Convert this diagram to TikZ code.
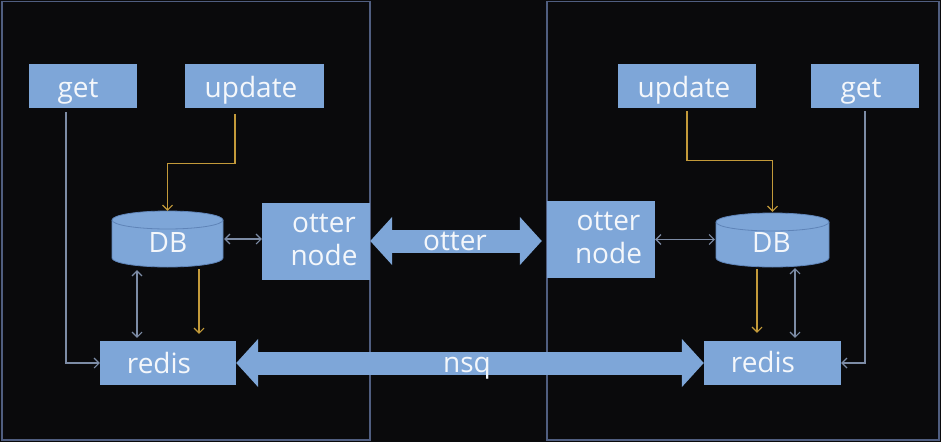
\documentclass[tikz,border=0pt]{standalone}
\usepackage{fontspec}
\setmainfont{Open Sans}
\usetikzlibrary{arrows.meta,calc}
\definecolor{bg}{HTML}{0A0A0C}
\definecolor{panel}{HTML}{505E80}
\definecolor{boxblue}{HTML}{7EA6D8}
\definecolor{boxedge}{HTML}{5F84B8}
\definecolor{txtc}{HTML}{F4F7FB}
\definecolor{linegray}{HTML}{7D8CA6}
\definecolor{gold}{HTML}{C39A3A}
\begin{document}
\begin{tikzpicture}[x=1pt,y=-1pt,
  box/.style={fill=boxblue, draw=none, inner sep=0pt},
  txt/.style={text=txtc, font=\fontsize{28}{33}\selectfont, anchor=base, inner sep=0pt},
  conn/.style={draw=linegray, line width=1.1pt, -{Straight Barb[length=5pt,width=10pt]}},
  conn2/.style={draw=linegray, line width=1.1pt, {Straight Barb[length=5pt,width=10pt]}-{Straight Barb[length=5pt,width=10pt]}},
  goldc/.style={draw=gold, line width=1.1pt, -{Straight Barb[length=5pt,width=10pt]}},
  bigarrow/.style={draw=boxblue, line width=23pt, {Triangle[length=22pt,width=47pt]}-{Triangle[length=22pt,width=47pt]}},
  panelst/.style={draw=panel, line width=1.4pt},
  cyl/.style={fill=boxblue, draw=boxedge, line width=0.8pt}
]
\useasboundingbox (0,0) rectangle (941,442);
\fill[bg] (0,0) rectangle (941,442);
% panels
\draw[panelst] (2,1.5) rectangle (370,440);
\draw[panelst] (547,1.5) rectangle (939,440);

% ---- left side ----
\node[box, minimum width=108pt, minimum height=44pt] (getL) at (83,86) {};
\node[txt] at (78,97) {get};
\node[box, minimum width=139pt, minimum height=44pt] (updL) at (254.5,86) {};
\node[txt] at (251,97) {update};
\node[box, minimum width=108pt, minimum height=77pt] (otL) at (316,241) {};
\node[txt] at (324,232) {otter};
\node[txt] at (324,265) {node};
\node[box, minimum width=136pt, minimum height=44pt] (redisL) at (168,363) {};
\node[txt] at (159,373) {redis};
% DB cylinder left
\node[minimum width=111pt, minimum height=56pt, inner sep=0pt] (dbL) at (167.5,239) {};
\filldraw[cyl]
  (112,220) -- (112,258) arc[start angle=180, end angle=0, x radius=55.5, y radius=9]
  -- (223,220) arc[start angle=0, end angle=-180, x radius=55.5, y radius=9] -- cycle;
\draw[boxedge, line width=0.8pt] (112,220) arc[start angle=180, end angle=0, x radius=55.5, y radius=9];
\node[txt] at (168,252) {DB};

% ---- right side ----
\node[box, minimum width=108pt, minimum height=77pt] (otR) at (601,239) {};
\node[txt] at (608.5,230) {otter};
\node[txt] at (608.5,263) {node};
\node[box, minimum width=138pt, minimum height=44pt] (updR) at (687,86) {};
\node[txt] at (684,97) {update};
\node[box, minimum width=108pt, minimum height=44pt] (getR) at (865,86) {};
\node[txt] at (861,97) {get};
\node[box, minimum width=137pt, minimum height=44pt] (redisR) at (772.5,363) {};
\node[txt] at (763,372) {redis};
% DB cylinder right
\node[minimum width=113pt, minimum height=55pt, inner sep=0pt] (dbR) at (772.5,239.5) {};
\filldraw[cyl]
  (716,222) -- (716,258) arc[start angle=180, end angle=0, x radius=56.5, y radius=9]
  -- (829,222) arc[start angle=0, end angle=-180, x radius=56.5, y radius=9] -- cycle;
\draw[boxedge, line width=0.8pt] (716,222) arc[start angle=180, end angle=0, x radius=56.5, y radius=9];
\node[txt] at (771.5,252) {DB};

% helper x positions for vertical connectors
\coordinate (xa) at (137,0);
\coordinate (xb) at (199,0);
\coordinate (xc) at (757,0);
\coordinate (xd) at (795,0);

% ---- connectors left ----
\draw[goldc] ($(updL.south)+(-19.5,6)$) -- ++(0,49) -| (dbL.north);
\draw[conn] ($(getL.south)+(-17,4)$) |- (redisL.west);
\draw[conn2, shorten <=3pt, shorten >=3pt] (dbL.south -| xa) -- (redisL.north -| xa);
\draw[goldc, shorten <=2pt, shorten >=7pt] (dbL.south -| xb) -- (redisL.north -| xb);
\draw[conn2, shorten <=1pt] (dbL.east) -- (dbL.east -| otL.west);

% ---- connectors right ----
\draw[goldc] ($(updR.south)+(0,3)$) -- ++(0,49) -| (dbR.north);
\draw[conn] ($(getR.south)+(0,3)$) |- (redisR.east);
\draw[goldc, shorten <=2pt, shorten >=8pt] (dbR.south -| xc) -- (redisR.north -| xc);
\draw[conn2, shorten <=1pt, shorten >=3pt] (dbR.south -| xd) -- (redisR.north -| xd);
\draw[conn2, shorten >=1pt] (otR.east |- dbR.west) -- (dbR.west);

% ---- big arrows ----
\draw[bigarrow, shorten >=5pt] (otL.east) -- (otL.east -| otR.west);
\node[txt] at (455,250) {otter};
\draw[bigarrow] (redisL.east) -- (redisR.west);
\node[txt] at (467,372) {nsq};
\end{tikzpicture}
\end{document}
